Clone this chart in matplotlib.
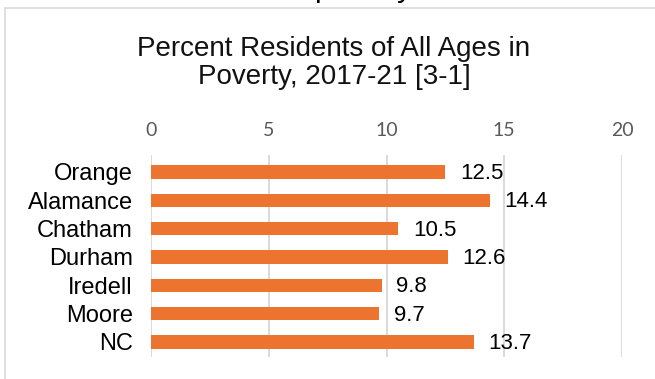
import matplotlib
matplotlib.use("Agg")
import matplotlib.pyplot as plt
from matplotlib.patches import Rectangle

counties = ["Orange", "Alamance", "Chatham", "Durham", "Iredell", "Moore", "NC"]
poverty_pct = [12.5, 14.4, 10.5, 12.6, 9.8, 9.7, 13.7]
x_ticks = [0, 5, 10, 15, 20]

W, H = 655, 379
fig = plt.figure(figsize=(W / 100, H / 100), dpi=100)
fig.patch.set_facecolor("white")

# Outer chart border (runs past the right and bottom edges)
fig.add_artist(Rectangle((5 / W, -0.1), 1.2, 1 - 8.5 / H + 0.1,
                         transform=fig.transFigure, fill=False,
                         edgecolor="#d9d9d9", linewidth=1.2))

# Tail of the heading above the chart
fig.text(363 / W, 1 + 3.3 / H, "poverty", ha="center", va="baseline",
         fontsize=21.5, family="Liberation Sans", color="black")

fig.text(334 / W, 1 - 62.5 / H, "Percent Residents of All Ages in\nPoverty, 2017-21 [3-1]",
         ha="center", va="center", fontsize=20, family="Liberation Sans",
         color="#111111", linespacing=1.1)

ax = fig.add_axes([151 / W, 1 - 357 / H, (622 - 151) / W, (357 - 155) / H])
y = range(len(counties))
ax.barh(y, poverty_pct, height=0.47, color="#ED742E", zorder=3)
ax.set_xlim(0, 20)
ax.set_ylim(6.53, -0.6)
ax.set_xticks(x_ticks)
ax.set_xticklabels([str(t) for t in x_ticks], family="Lato", fontsize=14, color="#595959")
ax.xaxis.tick_top()
ax.tick_params(axis="x", length=0, pad=11.5)
ax.set_yticks(list(y))
ax.set_yticklabels(counties, family="Liberation Sans", fontsize=17, color="black")
ax.tick_params(axis="y", length=0, pad=13)
ax.grid(axis="x", color="#d9d9d9", linewidth=1.4, zorder=0)
for s in ax.spines.values():
    s.set_visible(False)

for i, v in enumerate(poverty_pct):
    ax.annotate(f"{v}", (v, i), xytext=(10.5, -1), textcoords="offset points",
                ha="left", va="center", fontsize=16, family="Liberation Sans",
                color="black")

fig.savefig("out.png", dpi=100)
